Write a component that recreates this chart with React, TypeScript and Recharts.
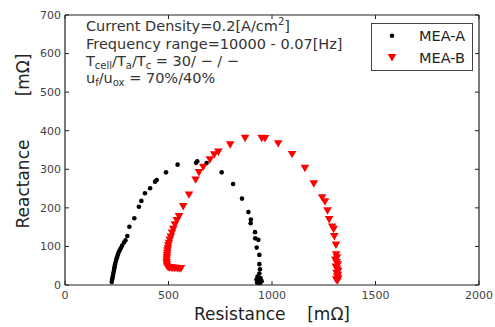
import React from "react";
import {
  ScatterChart,
  Scatter,
  XAxis,
  YAxis,
  Legend,
  ReferenceLine,
} from "recharts";

// MEA-A (black dots): resistance / reactance in mOhm
const meaA_R = [
  226, 228, 230, 232, 234, 236, 238, 240, 242, 245, 248, 251, 255, 259, 264, 270, 276, 285, 292, 301,
  311, 335, 357, 369, 386, 411, 435, 443, 488, 544, 633, 639, 684, 757, 812, 855, 886, 898, 897, 918,
  919, 934, 926, 939, 939, 942, 939, 930, 945, 925, 938, 950, 935, 928, 942,
];
const meaA_X = [
  8, 14, 20, 26, 31, 37, 43, 48, 54, 60, 66, 72, 78, 84, 90, 96, 102, 110, 116, 127,
  151, 173, 203, 218, 238, 251, 268, 272, 292, 312, 317, 321, 316, 292, 262, 224, 189, 170, 160, 137,
  121, 117, 97, 78, 54, 41, 30, 22, 18, 14, 12, 10, 8, 6, 5,
];

// MEA-B (red triangles)
const meaB_R = [
  560, 552, 544, 536, 528, 520, 512, 505, 499, 494, 492, 491, 491, 492, 493, 494, 495, 497, 499, 502,
  506, 511, 517, 523, 531, 540, 551, 571, 599, 631, 647, 668, 700, 721, 741, 798, 870, 950, 966, 1030,
  1097, 1159, 1202, 1242, 1256, 1268, 1276, 1291, 1298, 1301, 1309, 1310, 1314, 1306, 1312, 1318, 1308, 1315, 1320, 1312,
  1318, 1315, 1320, 1310, 1316,
];
const meaB_X = [
  42, 42, 42, 43, 43, 43, 44, 44, 45, 47, 52, 58, 64, 70, 76, 82, 88, 94, 101, 108,
  116, 124, 134, 144, 156, 167, 177, 203, 233, 272, 291, 305, 324, 337, 344, 363, 380, 380, 379, 366,
  338, 302, 262, 226, 215, 192, 169, 150, 144, 125, 103, 78, 70, 64, 58, 52, 46, 40, 35, 30,
  25, 20, 16, 13, 10,
];

const xTicks = [0, 500, 1000, 1500, 2000];
const yTicks = [0, 100, 200, 300, 400, 500, 600, 700];

const seriesA = meaA_R.map((r, i) => ({ r, x: meaA_X[i] }));
const seriesB = meaB_R.map((r, i) => ({ r, x: meaB_X[i] }));

const W = 495;
const H = 327;
const PLOT_L = 65;
const PLOT_T = 15;
const PLOT_W = 414;
const PLOT_H = 270;
const FONT = "DejaVu Sans, Verdana, sans-serif";
const AX = "#222";

function XTick(props: any) {
  const { x, y, payload } = props;
  return (
    <g>
      <line x1={x} x2={x} y1={y} y2={y - 4} stroke={AX} />
      <line x1={x} x2={x} y1={y - PLOT_H} y2={y - PLOT_H + 4} stroke={AX} />
      <text x={x} y={y + 14} textAnchor="middle" fill="#444" fontSize={11} fontFamily={FONT}>
        {payload.value}
      </text>
    </g>
  );
}

function YTick(props: any) {
  const { x, y, payload } = props;
  return (
    <g>
      <line x1={x} x2={x + 4} y1={y} y2={y} stroke={AX} />
      <line x1={x + PLOT_W} x2={x + PLOT_W - 4} y1={y} y2={y} stroke={AX} />
      <text x={x - 4} y={y} dy="0.35em" textAnchor="end" fill="#444" fontSize={11} fontFamily={FONT}>
        {payload.value}
      </text>
    </g>
  );
}

const dot = (p: any) => <circle cx={p.cx} cy={p.cy} r={2.3} fill="#000" />;
const tri = (p: any) => (
  <polygon
    points={`${p.cx - 4.3},${p.cy - 3.7} ${p.cx + 4.3},${p.cy - 3.7} ${p.cx},${p.cy + 3.7}`}
    fill="#ff0000"
  />
);

function LegendBox(props: any) {
  const items = props.payload || [];
  return (
    <svg width={103} height={49} style={{ display: "block" }}>
      <rect x={0.5} y={0.5} width={101} height={47} fill="#fff" stroke="#444" />
      {items.map((it: any, i: number) => {
        const cy = 12.7 + i * 22;
        return (
          <g key={it.value}>
            {i === 0 ? (
              <circle cx={21} cy={cy} r={2.3} fill="#000" />
            ) : (
              <polygon points={`${16.7},${cy - 3.7} ${25.3},${cy - 3.7} ${21},${cy + 3.7}`} fill="#ff0000" />
            )}
            <text x={48} y={cy} dy="0.36em" fontSize={14.5} fontFamily={FONT} fill="#222">
              {it.value}
            </text>
          </g>
        );
      })}
    </svg>
  );
}

export default function App() {
  return (
    <div style={{ position: "absolute", left: 0, top: 0, width: W, height: H, background: "#fff" }}>
      <ScatterChart width={W} height={H} margin={{ top: PLOT_T, right: W - PLOT_L - PLOT_W, bottom: 0, left: 0 }}>
        <XAxis
          type="number"
          dataKey="r"
          domain={[0, 2000]}
          ticks={xTicks}
          height={H - PLOT_T - PLOT_H}
          tickSize={0}
          tickMargin={0}
          tickLine={false}
          axisLine={{ stroke: AX, strokeWidth: 1.2 }}
          tick={<XTick />}
          interval={0}
          allowDataOverflow
        />
        <YAxis
          type="number"
          dataKey="x"
          domain={[0, 700]}
          ticks={yTicks}
          width={PLOT_L}
          tickSize={0}
          tickMargin={0}
          tickLine={false}
          axisLine={{ stroke: AX, strokeWidth: 1.2 }}
          tick={<YTick />}
          interval={0}
          allowDataOverflow
        />
        <ReferenceLine y={700} stroke={AX} strokeWidth={1.2} />
        <ReferenceLine x={2000} stroke={AX} strokeWidth={1.2} />
        <Legend
          layout="vertical"
          align="center"
          verticalAlign="middle"
          content={<LegendBox />}
          wrapperStyle={{ position: "absolute", left: 371, top: 23, width: 103, height: 49 }}
        />
        <Scatter name="MEA-A" data={seriesA} fill="#000" shape={dot} isAnimationActive={false} />
        <Scatter name="MEA-B" data={seriesB} fill="#ff0000" shape={tri} isAnimationActive={false} />
      </ScatterChart>
      <svg
        width={W}
        height={H}
        style={{ position: "absolute", left: 0, top: 0, pointerEvents: "none" }}
        fontFamily={FONT}
      >
        <g fill="#333" fontSize={14.5}>
          <text x={86} y={31}>
            Current Density=0.2[A/cm<tspan fontSize={10} dy={-6}>2</tspan>
            <tspan dy={6}>]</tspan>
          </text>
          <text x={86} y={49}>Frequency range=10000 - 0.07[Hz]</text>
          <text x={86} y={66}>
            T<tspan fontSize={10} dy={3}>cell</tspan>
            <tspan dy={-3}>/T</tspan>
            <tspan fontSize={10} dy={3}>a</tspan>
            <tspan dy={-3}>/T</tspan>
            <tspan fontSize={10} dy={3}>c</tspan>
            <tspan dy={-3}> = 30/ − / −</tspan>
          </text>
          <text x={86} y={83}>
            u<tspan fontSize={10} dy={3}>f</tspan>
            <tspan dy={-3}>/u</tspan>
            <tspan fontSize={10} dy={3}>ox</tspan>
            <tspan dy={-3}> = 70%/40%</tspan>
          </text>
        </g>
        <text
          x={272}
          y={320}
          textAnchor="middle"
          fontSize={17}
          fill="#222"
          style={{ whiteSpace: "pre" }}
        >
          {"Resistance    [mΩ]"}
        </text>
        <text
          x={29}
          y={141}
          textAnchor="middle"
          fontSize={17}
          fill="#222"
          transform="rotate(-90 29 141)"
          style={{ whiteSpace: "pre" }}
        >
          {"Reactance        [mΩ]"}
        </text>
      </svg>
    </div>
  );
}
